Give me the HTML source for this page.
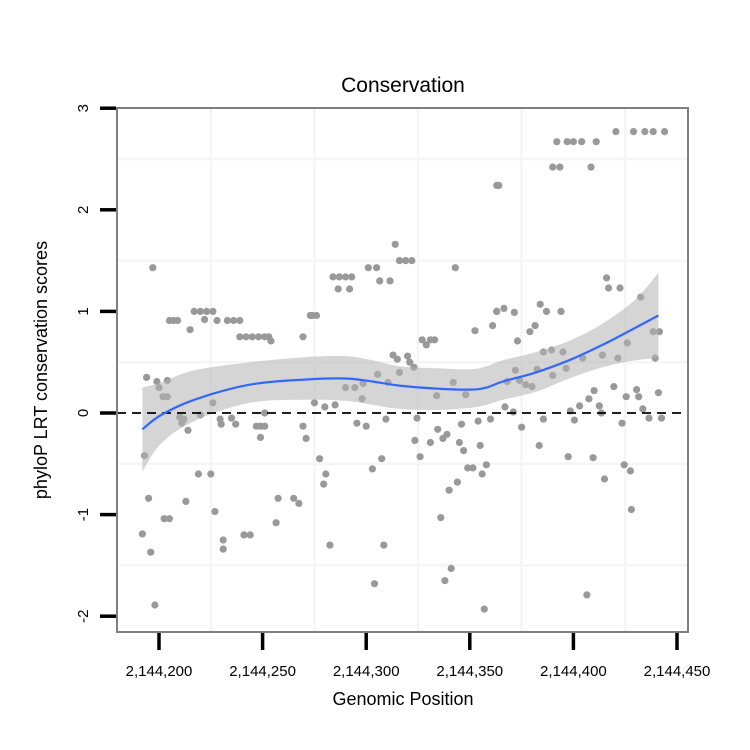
<!DOCTYPE html>
<html><head><meta charset="utf-8"><style>
html,body{margin:0;padding:0;background:#fff;}
svg{display:block;font-family:"Liberation Sans",Arial,sans-serif;}
</style></head><body>
<svg id="chart" width="750" height="750" viewBox="0 0 750 750"></svg>
<script>
const xTicks=[2144200,2144250,2144300,2144350,2144400,2144450];
const xTickLabels=["2,144,200","2,144,250","2,144,300","2,144,350","2,144,400","2,144,450"];
const yTicks=[-2,-1,0,1,2,3];
const yTickLabels=["-2","-1","0","1","2","3"];
const pointPos=[2144197,2144205,2144207,2144209,2144215,2144217,2144220,2144223,2144226,2144222,2144228,2144233,2144236,2144239,2144239,2144242,2144245,2144248,2144251,2144253,2144254,2144269.5,2144273,
2144194,2144199,2144200,2144204,2144202,2144204,2144226,2144210,2144211,2144212,2144214,2144220,2144229.5,2144230,2144235,2144237,2144247,2144249,2144251,2144251,2144249,2144269.5,2144271,
2144193,2144219,2144225,2144195,2144213,2144227,2144257.5,2144265,2144267.5,2144202.5,2144205,2144256.5,2144192,2144196,2144231,2144231,2144241,2144244,2144198,
2144363,2144364,2144314,2144316,2144319,2144322,2144301,2144305,2144343,2144284,2144287,2144290,2144293,2144286.5,2144292,2144306.5,2144311.5,2144274,2144276,2144363,2144361,2144352.5,
2144327,2144329,2144331,2144333,2144313,2144315,2144320,2144321,2144323,2144316,2144305.5,2144310.5,2144290,2144294.5,2144298.5,2144298,2144342,2144334,2144348,2144275,2144280,2144285,
2144295.5,2144300,2144309.5,2144324.5,2144334.5,2144337,2144339,2144346,2144354,2144360,2144323.5,2144331,2144326,2144345,2144347,2144355,2144277.5,2144307.5,2144303,2144349,2144351.5,2144358,2144356,
2144280.5,2144279.5,2144344,2144340,2144336,2144282.5,2144308.5,2144341,2144338,2144304,2144357,
2144392,2144397,2144400,2144404,2144411,2144420.5,2144429,2144434.5,2144438.5,2144444,2144390,2144393.5,2144408.5,2144416,2144417,2144422.5,2144432.5,2144384,2144387,2144394,2144363,2144366.5,2144371.5,
2144379,2144381.5,2144373,2144438.5,2144441.5,2144385.5,2144389.5,2144395,2144404.5,2144414,2144421.5,2144426,2144439.5,2144372,2144368,2144382.5,2144396.5,2144390,2144374,2144377,2144380,
2144410,2144407.5,2144403,2144419.5,2144425.5,2144430.5,2144431.5,2144441,2144412.5,2144413.5,2144367,2144371,2144398.5,2144400.5,2144385.5,2144375,2144423.5,2144433.5,2144436.5,2144442.5,
2144383.5,2144397.5,2144409.5,2144424.5,2144427.5,2144415,2144428,2144406.5];
const pointVal=[1.43,0.91,0.91,0.91,0.82,1.0,1.0,1.0,1.0,0.92,0.91,0.91,0.91,0.91,0.75,0.75,0.75,0.75,0.75,0.75,0.71,0.75,0.96,
0.35,0.31,0.25,0.32,0.16,0.16,0.10,-0.04,-0.1,-0.06,-0.17,-0.02,-0.06,-0.11,-0.05,-0.11,-0.13,-0.13,-0.13,0.0,-0.24,-0.13,-0.25,
-0.42,-0.6,-0.6,-0.84,-0.87,-0.97,-0.84,-0.84,-0.89,-1.04,-1.04,-1.08,-1.19,-1.37,-1.25,-1.34,-1.2,-1.2,-1.89,
2.24,2.24,1.66,1.5,1.5,1.5,1.43,1.43,1.43,1.34,1.34,1.34,1.34,1.22,1.22,1.3,1.3,0.96,0.96,1.0,0.86,0.81,
0.72,0.67,0.72,0.72,0.57,0.53,0.56,0.5,0.45,0.4,0.38,0.3,0.25,0.25,0.29,0.14,0.3,0.17,0.18,0.1,0.06,0.08,
-0.1,-0.13,-0.06,-0.05,-0.16,-0.25,-0.21,-0.11,-0.08,-0.06,-0.27,-0.29,-0.43,-0.29,-0.37,-0.32,-0.45,-0.45,-0.55,-0.54,-0.54,-0.51,-0.6,
-0.6,-0.7,-0.68,-0.76,-1.03,-1.3,-1.3,-1.53,-1.65,-1.68,-1.93,
2.67,2.67,2.67,2.67,2.67,2.77,2.77,2.77,2.77,2.77,2.42,2.42,2.42,1.33,1.23,1.23,1.14,1.07,1.0,1.0,1.0,1.03,0.99,
0.8,0.86,0.71,0.8,0.8,0.6,0.62,0.6,0.54,0.57,0.54,0.69,0.54,0.42,0.31,0.43,0.44,0.37,0.32,0.28,0.26,
0.22,0.14,0.07,0.26,0.16,0.23,0.16,0.2,0.07,0.0,0.06,0.01,0.02,-0.07,-0.06,-0.14,-0.1,0.04,-0.05,-0.05,
-0.32,-0.43,-0.44,-0.51,-0.57,-0.65,-0.95,-1.79];
const smoothPos=[2144192,2144201,2144217,2144244,2144271,2144290,2144303,2144316,2144334,2144350,2144358,2144366,2144382,2144398,2144414,2144430,2144441];
const smoothFit=[-0.16,-0.02,0.13,0.28,0.33,0.34,0.31,0.27,0.24,0.23,0.25,0.31,0.4,0.52,0.67,0.84,0.96];
const smoothLo=[-0.58,-0.3,-0.08,0.1,0.13,0.12,0.08,0.04,0.03,0.05,0.08,0.13,0.21,0.34,0.45,0.52,0.54];
const smoothHi=[0.25,0.3,0.42,0.5,0.55,0.56,0.52,0.46,0.44,0.43,0.46,0.52,0.6,0.71,0.88,1.12,1.38];

const NS="http://www.w3.org/2000/svg";
const svg=document.getElementById('chart');
const L=117,R=688,T=108,B=632;
const xs=v=>159+(v-2144200)*(677-159)/250;
const ys=v=>413-v*101.6;
function el(tag,attrs,parent){const e=document.createElementNS(NS,tag);for(const k in attrs)e.setAttribute(k,attrs[k]);(parent||svg).appendChild(e);return e;}
function curve(pts,start){
  let d=(start?'M':'L')+pts[0][0].toFixed(1)+','+pts[0][1].toFixed(1);
  for(let i=0;i<pts.length-1;i++){
    const p0=pts[Math.max(0,i-1)],p1=pts[i],p2=pts[i+1],p3=pts[Math.min(pts.length-1,i+2)];
    const c1=[p1[0]+(p2[0]-p0[0])/6,p1[1]+(p2[1]-p0[1])/6];
    const c2=[p2[0]-(p3[0]-p1[0])/6,p2[1]-(p3[1]-p1[1])/6];
    d+='C'+c1[0].toFixed(1)+','+c1[1].toFixed(1)+' '+c2[0].toFixed(1)+','+c2[1].toFixed(1)+' '+p2[0].toFixed(1)+','+p2[1].toFixed(1);
  }
  return d;
}

const panel=el('rect',{x:L,y:T,width:R-L,height:B-T,fill:'#fff'});


const grid=el('g',{stroke:'#f5f5f5','stroke-width':2.5});


for(let i=0;i<xTicks.length-1;i++){const gx=xs((xTicks[i]+xTicks[i+1])/2);el('line',{x1:gx,x2:gx,y1:T,y2:B},grid);}
for(let i=0;i<yTicks.length-1;i++){const gy=ys((yTicks[i]+yTicks[i+1])/2);el('line',{x1:L,x2:R,y1:gy,y2:gy},grid);}

const pg=el('g',{fill:'#999999'});


for(let i=0;i<pointPos.length;i++){
  const c=el('circle',{cx:xs(pointPos[i]).toFixed(1),cy:ys(pointVal[i]).toFixed(1),r:3.6},pg);
  
  
}
const hiPts=smoothPos.map((p,i)=>[xs(p),ys(smoothHi[i])]);
const loPts=smoothPos.map((p,i)=>[xs(p),ys(smoothLo[i])]).reverse();
const band=el('path',{d:curve(hiPts,true)+curve(loPts,false)+'Z',fill:'#b3b3b3','fill-opacity':0.55});


const zl=el('line',{x1:L,x2:R,y1:ys(0),y2:ys(0),stroke:'#000','stroke-width':1.8,'stroke-dasharray':'9,6'});


const fitPts=smoothPos.map((p,i)=>[xs(p),ys(smoothFit[i])]);
const sl=el('path',{d:curve(fitPts,true),fill:'none',stroke:'#3366ff','stroke-width':2.2,'stroke-linejoin':'round'});


const bd=el('rect',{x:L,y:T,width:R-L,height:B-T,fill:'none',stroke:'#7f7f7f','stroke-width':2});


const xa=el('g',{});


for(let i=0;i<xTicks.length;i++){
  const x=xs(xTicks[i]);
  const t=el('line',{x1:x,x2:x,y1:B+1,y2:B+18,stroke:'#000','stroke-width':3.5},xa);
  
  
  const tx=el('text',{x:x,y:676,'text-anchor':'middle','font-size':15,fill:'#000'},xa);
  tx.textContent=xTickLabels[i];
  
  
}
const ya=el('g',{});


for(let i=0;i<yTicks.length;i++){
  const y=ys(yTicks[i]);
  const t=el('line',{x1:100,x2:L-1,y1:y,y2:y,stroke:'#000','stroke-width':3.5},ya);
  
  
  const tx=el('text',{x:0,y:0,transform:`translate(88,${y}) rotate(-90)`,'text-anchor':'middle','font-size':15,fill:'#000'},ya);
  tx.textContent=yTickLabels[i];
  
  
}
const title=el('text',{x:403,y:92,'text-anchor':'middle','font-size':21,fill:'#000'});
title.textContent='Conservation';


const xt=el('text',{x:403,y:705,'text-anchor':'middle','font-size':18,fill:'#000'});
xt.textContent='Genomic Position';


const yt=el('text',{x:0,y:0,transform:'translate(47,370) rotate(-90)','text-anchor':'middle','font-size':18,fill:'#000'});
yt.textContent='phyloP LRT conservation scores';


</script>
</body></html>
